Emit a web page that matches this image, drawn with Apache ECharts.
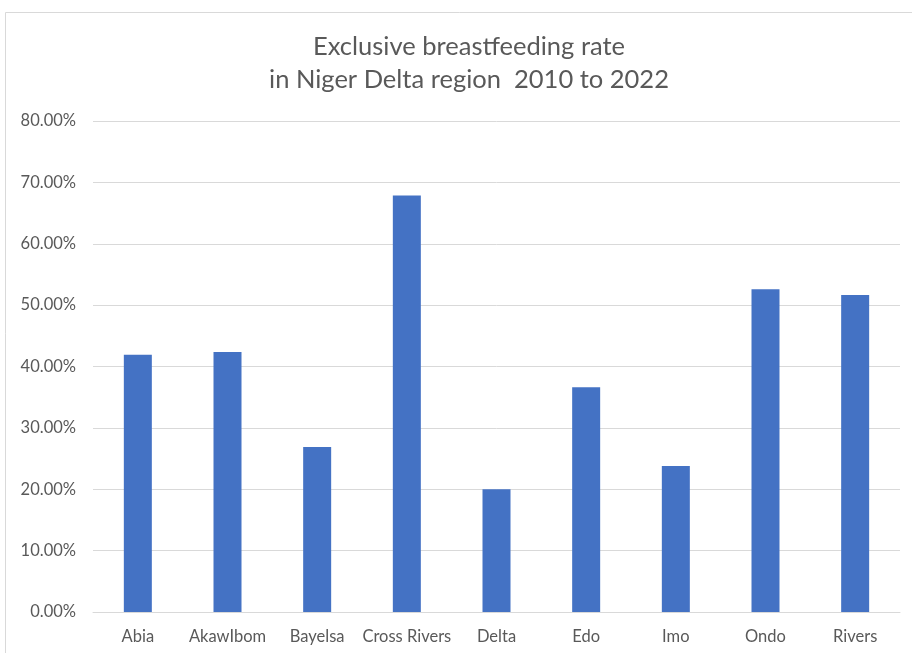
<!DOCTYPE html>
<html>
<head>
<meta charset="utf-8">
<script src="https://cdn.jsdelivr.net/npm/echarts@6/dist/echarts.min.js"></script>
<style>
  html, body { margin: 0; padding: 0; background: #fff; }
  #chart { width: 912px; height: 653px; }
</style>
</head>
<body>
<div id="chart"></div>
<script>
// States of the Niger Delta region
const states = ['Abia', 'AkawIbom', 'Bayelsa', 'Cross Rivers', 'Delta', 'Edo', 'Imo', 'Ondo', 'Rivers'];
// Exclusive breastfeeding rate (%)
const rates = [41.9, 42.35, 26.9, 67.85, 20.0, 36.6, 23.8, 52.6, 51.65];
// Value axis range and step (%)
const yMin = 0;
const yMax = 80;
const yStep = 10;

const titleLines = ['Exclusive breastfeeding rate', 'in Niger Delta region  2010 to 2022'];

const font = 'Lato, "Open Sans", "Noto Sans", sans-serif';
const chart = echarts.init(document.getElementById('chart'), null, { renderer: 'canvas' });

chart.setOption({
  backgroundColor: '#ffffff',
  animation: false,
  graphic: [{
    type: 'rect',
    shape: { x: 5.5, y: 12.5, width: 920, height: 660 },
    style: { fill: 'none', stroke: '#d9d9d9', lineWidth: 1 },
    silent: true
  }],
  title: {
    text: titleLines.join('\n'),
    left: 464,
    textAlign: 'center',
    top: 25,
    textStyle: {
      fontFamily: font,
      fontSize: 25.5,
      fontWeight: 'normal',
      color: '#595959',
      lineHeight: 33
    }
  },
  grid: { left: 93, right: 12, top: 121, bottom: 41, containLabel: false },
  xAxis: {
    type: 'category',
    data: states,
    axisLine: { show: true, lineStyle: { color: '#d9d9d9', width: 1 } },
    axisTick: { show: false },
    axisLabel: {
      color: '#595959',
      fontFamily: font,
      fontSize: 16.5,
      margin: 16,
      interval: 0
    }
  },
  yAxis: {
    type: 'value',
    min: yMin,
    max: yMax,
    interval: yStep,
    axisLine: { show: false },
    axisTick: { show: false },
    splitLine: { lineStyle: { color: '#d9d9d9', width: 1 } },
    axisLabel: {
      color: '#595959',
      fontFamily: font,
      fontSize: 16.5,
      margin: 17,
      formatter: v => v.toFixed(2) + '%'
    }
  },
  series: [{
    type: 'bar',
    data: rates,
    barWidth: 28,
    itemStyle: { color: '#4472c4' }
  }]
});
</script>
</body>
</html>
